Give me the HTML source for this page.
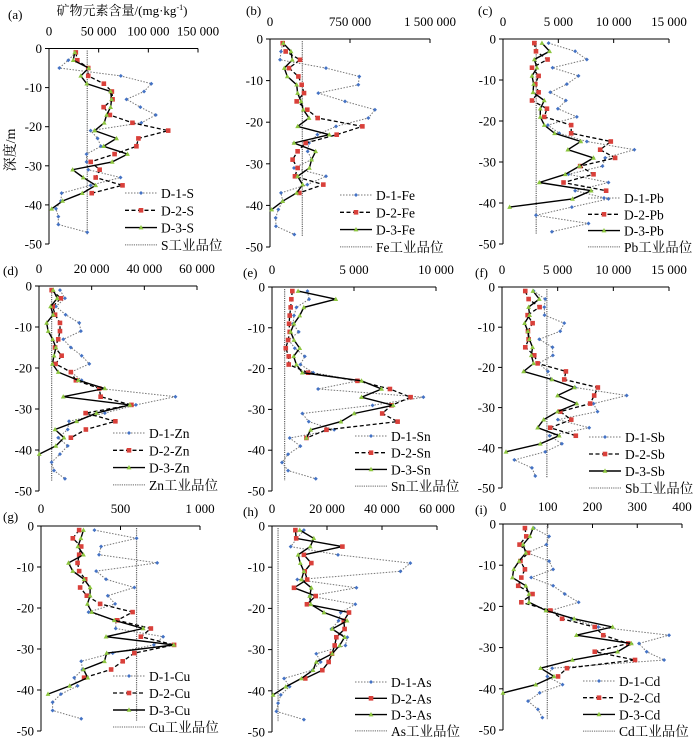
<!DOCTYPE html>
<html><head><meta charset="utf-8"><style>
html,body{margin:0;padding:0;background:#fff}
svg{display:block;font-family:"Liberation Serif","Noto Serif CJK SC",serif}
svg text{font-family:"Liberation Serif","Noto Serif CJK SC",serif}
</style></head><body>
<svg id="chart" width="700" height="744" viewBox="0 0 700 744" xmlns="http://www.w3.org/2000/svg" font-family="Liberation Serif, Noto Serif CJK SC, serif">
<text x="122" y="15" font-size="13" text-anchor="middle">矿物元素含量/(mg·kg<tspan font-size="8" dy="-5">-1</tspan><tspan dy="5">)</tspan></text>
<text transform="translate(15,150) rotate(-90)" font-size="14" text-anchor="middle">深度/m</text>
</svg>
<script>
const depths=[-1,-3,-5,-7,-9,-11,-13,-15,-17,-19,-21,-23,-25,-27,-29,-31,-33,-35,-37,-39,-41,-43,-45,-47];
const yTicks=[0,-10,-20,-30,-40,-50];
// (a) S
const aD1=[27000,19400,10400,72300,103000,95700,78000,92000,107500,93000,41900,48900,52200,37800,37800,39500,72000,41900,12700,12000,7000,9400,9400,38500];
const aD2=[27000,28500,39500,39500,55200,63300,64000,55000,61300,84000,120000,90000,88000,66000,42000,51000,47000,74000,43000];
const aD3=[26000,24400,40000,32000,38000,62000,63000,62000,58000,55600,46000,68000,55000,79000,63600,23800,34500,47000,33500,13700,2700];
const aGrade=38500;
const aTicks=[0,50000,100000,150000];
// (b) Fe
const bD1=[119000,103000,94000,525000,837000,828000,453000,703000,984000,922000,619000,444000,366000,353000,390000,225000,525000,350000,103000,119000,78000,53000,56000,228000];
const bD2=[119000,147000,281000,178000,266000,297000,319000,250000,350000,447000,866000,625000,334000,259000,212000,259000,234000,500000,275000];
const bD3=[125000,197000,209000,134000,162000,250000,259000,291000,312000,366000,259000,556000,225000,428000,390000,369000,259000,306000,250000,119000,16000];
const bGrade=303000;
const bTicks=[0,750000,1500000];
// (c) Pb
const cD1=[4120,6520,7575,4480,6820,5770,4270,5680,4960,6670,4060,5080,7575,11870,9230,8990,5920,9530,6520,9530,6220,2980,7725,4420];
const cD2=[2830,2980,4030,2620,3220,2920,3220,2620,3970,3730,6160,6160,9740,8780,10130,6970,8180,5470,9320];
const cD3=[3520,4210,2830,3070,2620,2770,2710,3730,3370,3370,3730,4660,7030,5860,8180,6910,5620,3280,7970,6280,600];
const cGrade=3000;
const cTicks=[0,5000,10000,15000];
// (d) Zn
const dD1=[7960,9850,6440,10100,15280,15900,9220,12100,16200,19100,12100,16200,23100,51800,36800,25000,11400,10900,7300,10900,7960,4800,5700,9850];
const dD2=[4800,8300,5200,6100,7960,7960,7300,6100,8600,6300,12100,14000,22900,23400,35100,17700,29000,17800,12100];
const dD3=[5400,6900,4400,5400,2900,3500,5200,6400,5700,5100,7300,14900,25000,9200,34500,21800,14300,6100,9500,6400,100];
const dGrade=4800;
const dTicks=[0,20000,40000,60000];
// (e) Sn
const eD1=[2160,2260,1490,1340,1280,1630,1020,1390,2000,1730,2510,5260,2810,9230,6130,1850,2240,3790,1080,1730,980,610,980,2670];
const eD2=[1240,1180,1140,1080,1040,1080,980,840,1020,1020,2200,5210,7190,8450,7290,6720,7660,3320,2100];
const eD3=[1590,3890,1940,1690,1340,1140,1340,1690,1320,1490,1850,5460,6680,5460,7390,5010,4200,2360,2100];
const eGrade=770;
const eTicks=[0,5000,10000];
// (f) Sb
const fD1=[2840,3880,3800,3820,5590,5230,3350,4540,4570,3290,4120,4420,6570,11200,8220,8580,5020,7830,4270,5380,3880,1110,2690,2990];
const fD2=[2090,2390,3380,2300,2750,2330,2390,2090,2900,3200,5740,5590,8610,8280,7920,5230,6220,4330,6630];
const fD3=[2780,3350,2390,2480,2030,2330,2450,2750,2630,2840,1940,4480,6510,4990,6720,4990,3740,3200,5140,3440,360];
const fGrade=4030;
const fTicks=[0,5000,10000,15000];
// (g) Cu
const gD1=[336,601,378,365,731,347,409,587,420,466,299,472,470,768,710,451,253,261,209,230,125,73,73,253];
const gD2=[240,200,253,240,230,240,278,246,288,372,576,480,691,628,837,587,514,441,271];
const gD3=[267,251,232,267,173,200,271,309,309,292,319,461,643,409,835,413,399,267,294,180,44];
const gGrade=601;
const gTicks=[0,500,1000];
// (h) As
const hD1=[11600,9100,6800,24000,50300,46700,9200,30700,13700,30300,25000,24200,21600,27400,26700,16100,17700,14700,4400,6400,3200,2200,1600,11600];
const hD2=[8500,8800,25600,11600,14300,11900,12800,8000,15900,12700,28000,26100,26400,23400,22800,21800,20600,18300,12100];
const hD3=[10100,15200,13900,9500,10300,11600,10700,14300,13700,14100,18900,27300,21900,26400,24600,21900,16100,14900,10700,5000,400];
const hGrade=2200;
const hTicks=[0,20000,40000,60000];
// (i) Cd
const iD1=[69,103,97,54,103,112,63,112,138,169,107,153,213,371,304,321,360,110,99,133,82,56,78,88];
const iD2=[49,52,37,56,39,49,41,34,66,41,106,132,205,224,280,205,295,143,123];
const iD3=[67,60,45,51,36,24,21,51,58,58,96,159,245,164,287,256,155,84,114,73,0];
const iGrade=99;
const iTicks=[0,100,200,300,400];

const panels=[
 {id:'a',el:'S',d1:aD1,d2:aD2,d3:aD3,grade:aGrade,ticks:aTicks,x0:49,x1:198,y0:48.5,y1:244,lab:[8,19],leg:[125,193,17.3]},
 {id:'b',el:'Fe',d1:bD1,d2:bD2,d3:bD3,grade:bGrade,ticks:bTicks,x0:270,x1:430,y0:39,y1:247,lab:[246,15],leg:[340,195,17.3]},
 {id:'c',el:'Pb',d1:cD1,d2:cD2,d3:cD3,grade:cGrade,ticks:cTicks,x0:503,x1:669,y0:39,y1:244,lab:[478,15],leg:[588,198,16.3]},
 {id:'d',el:'Zn',d1:dD1,d2:dD2,d3:dD3,grade:dGrade,ticks:dTicks,x0:39,x1:197,y0:286,y1:491,lab:[3,275],leg:[113,433,17.3]},
 {id:'e',el:'Sn',d1:eD1,d2:eD2,d3:eD3,grade:eGrade,ticks:eTicks,x0:272,x1:436,y0:287,y1:491,lab:[243,277],leg:[355,436,16.7]},
 {id:'f',el:'Sb',d1:fD1,d2:fD2,d3:fD3,grade:fGrade,ticks:fTicks,x0:502,x1:669,y0:287,y1:488,lab:[475,277],leg:[589,437,17]},
 {id:'g',el:'Cu',d1:gD1,d2:gD2,d3:gD3,grade:gGrade,ticks:gTicks,x0:41,x1:200,y0:526,y1:731,lab:[3,521],leg:[113,676,17]},
 {id:'h',el:'As',d1:hD1,d2:hD2,d3:hD3,grade:hGrade,ticks:hTicks,x0:272,x1:437,y0:526,y1:732,lab:[243,516],leg:[355,682,16.3],d2solid:true},
 {id:'i',el:'Cd',d1:iD1,d2:iD2,d3:iD3,grade:iGrade,ticks:iTicks,x0:503,x1:682,y0:524,y1:730,lab:[475,514],leg:[583,681,16.7]}
];
const NS='http://www.w3.org/2000/svg';
const svg=document.getElementById('chart');
function mk(tag,attrs,parent){const e=document.createElementNS(NS,tag);for(const k in attrs)e.setAttribute(k,attrs[k]);(parent||svg).appendChild(e);return e;}
function fmt(v){return String(v).replace(/\B(?=(\d{3})+(?!\d))/g,' ');}
function marker(g,type,x,y){
 let m;
 if(type==1){m=mk('path',{d:`M${x} ${y-2}L${x+2} ${y}L${x} ${y+2}L${x-2} ${y}Z`,fill:'#4472c4'},g);}
 else if(type==2){m=mk('rect',{x:x-2.3,y:y-2.3,width:4.6,height:4.6,fill:'#d9403a'},g);}
 else {m=mk('path',{d:`M${x} ${y-2.6}L${x+2.4} ${y+1.8}L${x-2.4} ${y+1.8}Z`,fill:'#8dc63f'},g);}
 return m;
}
panels.forEach(p=>{
 const xmax=p.ticks[p.ticks.length-1];
 const sx=v=>p.x0+v/xmax*(p.x1-p.x0);
 const sy=d=>p.y0+(-d)/50*(p.y1-p.y0);
 const g=mk('g',{});
 
 
 const lab=mk('text',{x:p.lab[0],y:p.lab[1],'font-size':13},g);
 lab.textContent='('+p.id+')';
 
 
 const ya=mk('line',{x1:p.x0,y1:p.y0,x2:p.x0,y2:p.y1,stroke:'#000','stroke-width':1},g);
 
 
 const xa=mk('line',{x1:p.x0,y1:p.y0,x2:p.x1,y2:p.y0,stroke:'#000','stroke-width':1},g);
 
 
 yTicks.forEach(t=>{
  mk('line',{x1:p.x0-4,y1:sy(t),x2:p.x0,y2:sy(t),stroke:'#000'},g);
  const tx=mk('text',{x:p.x0-7,y:sy(t)+4.5,'font-size':13,'text-anchor':'end'},g);
  tx.textContent=t;
  
  
 });
 p.ticks.forEach(t=>{
  mk('line',{x1:sx(t),y1:p.y0,x2:sx(t),y2:p.y0+4,stroke:'#000'},g);
  const tx=mk('text',{x:sx(t),y:p.y0-13,'font-size':13,'text-anchor':'middle'},g);
  tx.textContent=fmt(t);
  
  
 });
 const gl=mk('line',{x1:sx(p.grade),y1:sy(-0.5),x2:sx(p.grade),y2:sy(-47.5),stroke:'#666','stroke-width':1.2,'stroke-dasharray':'1.2 1'},g);
 
 
 const series=[
  {v:p.d1,n:1,st:{stroke:'#777','stroke-width':1,'stroke-dasharray':'1.5 1.5'}},
  {v:p.d2,n:2,st:p.d2solid?{stroke:'#000','stroke-width':1.4}:{stroke:'#000','stroke-width':1.3,'stroke-dasharray':'4 2.5'}},
  {v:p.d3,n:3,st:{stroke:'#000','stroke-width':1.4}}
 ];
 series.forEach(s=>{
  const pts=s.v.map((v,i)=>sx(v).toFixed(1)+','+sy(depths[i]).toFixed(1)).join(' ');
  const pl=mk('polyline',Object.assign({points:pts,fill:'none'},s.st),g);
  
  
  s.v.forEach((v,i)=>{
   const m=marker(g,s.n,sx(v),sy(depths[i]));
   
   
  });
 });
 const [lx,ly,dy]=p.leg;
 const names=['D-1-'+p.el,'D-2-'+p.el,'D-3-'+p.el,p.el+'工业品位'];
 names.forEach((nm,k)=>{
  const yy=ly+k*dy;
  const st=k<3?series[k].st:{stroke:'#666','stroke-width':1,'stroke-dasharray':'1.2 1'};
  const lg=mk('g',{},g);
  
  
  mk('line',Object.assign({x1:lx,y1:yy,x2:lx+32,y2:yy},st),lg);
  if(k<3) marker(lg,k+1,lx+16,yy);
  const t=mk('text',{x:lx+36,y:yy+5,'font-size':13.5},lg);
  t.textContent=nm;
 });
});
</script>
</body></html>
